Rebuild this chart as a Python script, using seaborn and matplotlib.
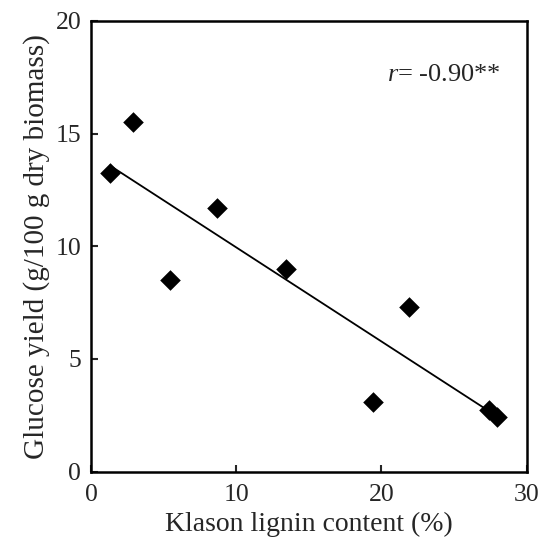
import numpy as np
import pandas as pd
import seaborn as sns
import matplotlib.pyplot as plt

# Klason lignin content (%) vs glucose yield (g/100 g dry biomass)
lignin = [1.3, 2.9, 5.45, 8.7, 13.45, 19.4, 21.9, 27.4, 27.95]
glucose = [13.25, 15.5, 8.5, 11.7, 9.0, 3.1, 7.3, 2.75, 2.4]
x_ticks = [0, 10, 20, 30]
y_ticks = [0, 5, 10, 15, 20]
r_label = '-0.90**'

df = pd.DataFrame({'lignin': lignin, 'glucose': glucose})

sns.set_style('ticks')
plt.rcParams['font.family'] = ['Liberation Serif', 'DejaVu Serif']
plt.rcParams['mathtext.fontset'] = 'custom'
plt.rcParams['mathtext.it'] = 'Liberation Serif:italic'
plt.rcParams['mathtext.rm'] = 'Liberation Serif'

fig = plt.figure(figsize=(5.4, 5.42), dpi=100)
ax = fig.add_axes([0.1685, 0.130, 0.8065, 0.8315])

sns.regplot(data=df, x='lignin', y='glucose', ax=ax, ci=None, truncate=True,
            marker='D', color='black',
            scatter_kws={'s': 110, 'linewidths': 0, 'alpha': 1},
            line_kws={'linewidth': 1.3})

ax.set_xlim(0, 30)
ax.set_ylim(0, 20)
ax.set_xticks(x_ticks)
ax.set_yticks(y_ticks)
ax.tick_params(direction='in', length=5, width=1.5, labelsize=18.5,
               top=False, right=False)
ax.tick_params(axis='x', pad=9)
ax.tick_params(axis='y', pad=7)
for s in ax.spines.values():
    s.set_visible(True)
    s.set_linewidth(1.8)
    s.set_color('black')

ax.set_xlabel('Klason lignin content (%)', fontsize=20, labelpad=4)
ax.set_ylabel('Glucose yield (g/100 g dry biomass)', fontsize=21, labelpad=4)

ax.text(20.4, 17.6, '$r$= ' + r_label, fontsize=19, va='center', ha='left')

fig.savefig('out.png', dpi=100)
